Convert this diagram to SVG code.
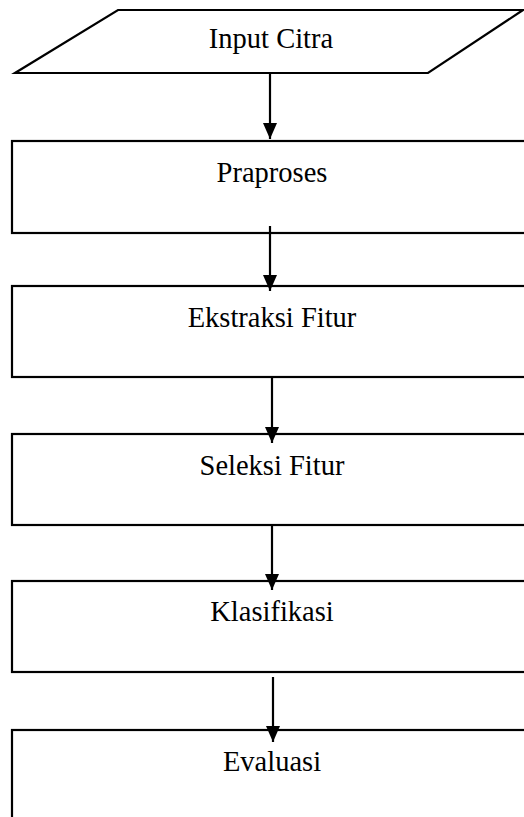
<svg xmlns="http://www.w3.org/2000/svg" width="524" height="817" viewBox="0 0 524 817">
<defs>
<marker id="ah" markerUnits="userSpaceOnUse" markerWidth="16" markerHeight="16" viewBox="0 0 16 16" refX="16" refY="8" orient="auto">
<path d="M0,1 L16,8 L0,15 Z" fill="#000"/>
</marker>
<style>
.box{fill:#fff;stroke:#000;stroke-width:2.2}
.lbl{font-family:"Liberation Serif","Times New Roman",serif;font-size:28.5px;fill:#000;text-anchor:middle}
.con{stroke:#000;stroke-width:2.2;fill:none;marker-end:url(#ah)}
</style>
</defs>
<rect width="524" height="817" fill="#fff"/>
<g id="input">
<polygon class="box" points="118,10 523,10 428,73 15,73"/>
<text class="lbl" x="271" y="48">Input Citra</text>
</g>
<g id="praproses">
<rect class="box" x="12" y="141" width="520" height="92"/>
<text class="lbl" x="272" y="182">Praproses</text>
</g>
<g id="ekstraksi">
<rect class="box" x="12" y="286" width="520" height="91"/>
<text class="lbl" x="272" y="327">Ekstraksi Fitur</text>
</g>
<g id="seleksi">
<rect class="box" x="12" y="434" width="520" height="91"/>
<text class="lbl" x="272" y="475">Seleksi Fitur</text>
</g>
<g id="klasifikasi">
<rect class="box" x="12" y="581" width="520" height="91"/>
<text class="lbl" x="272" y="621">Klasifikasi</text>
</g>
<g id="evaluasi">
<rect class="box" x="12" y="730" width="520" height="100"/>
<text class="lbl" x="272" y="771">Evaluasi</text>
</g>
<g id="connectors">
<line class="con" x1="270" y1="73" x2="270" y2="139"/>
<line class="con" x1="270" y1="226" x2="270" y2="291"/>
<line class="con" x1="272" y1="377" x2="272" y2="443"/>
<line class="con" x1="272" y1="525" x2="272" y2="590"/>
<line class="con" x1="273" y1="677" x2="273" y2="742"/>
</g>
</svg>
